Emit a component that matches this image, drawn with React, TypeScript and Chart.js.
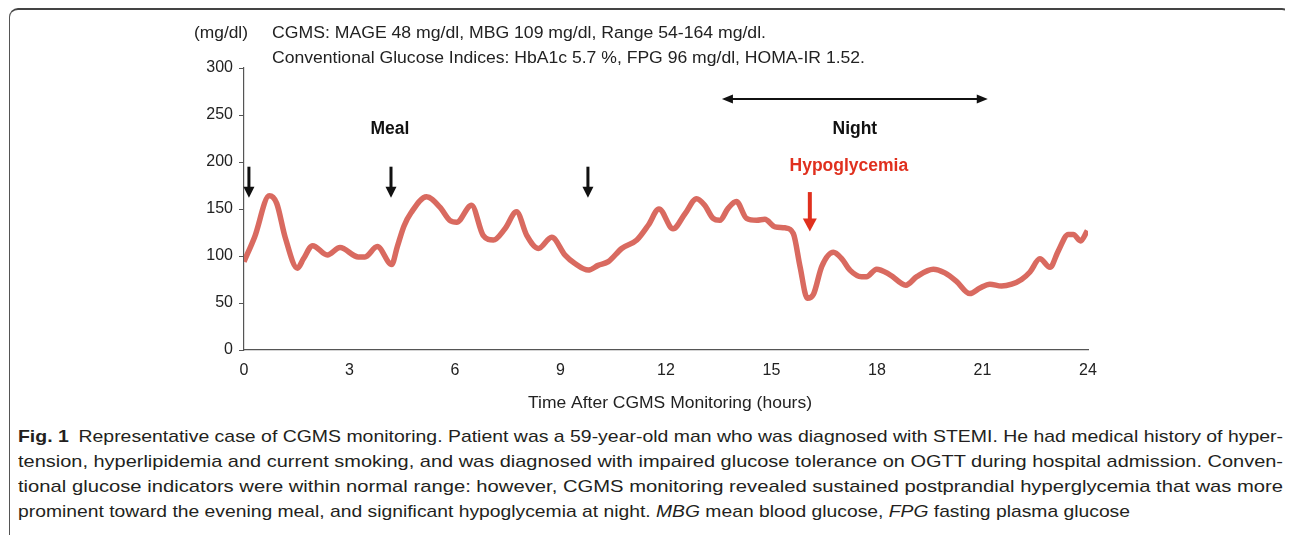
import React, { useEffect, useLayoutEffect, useRef } from "react";
import { Chart, registerables } from "chart.js";

Chart.register(...registerables);

// ---- data ----
const hours: number[] = [
  0, 0.3, 0.72, 0.93, 1.17, 1.52, 1.69, 1.95, 2.37, 2.73, 3.25, 3.44, 3.79, 4.2, 4.36, 4.55, 4.75, 5.19,
  5.57, 5.85, 6.05, 6.47, 6.8, 7.09, 7.42, 7.75, 8.04, 8.37, 8.75, 9.13, 9.41, 9.79, 10.07, 10.36, 10.74,
  11.17, 11.5, 11.8, 12.2, 12.54, 12.87, 13.1, 13.34, 13.53, 13.77, 14.0, 14.29, 14.58, 14.81, 15.1,
  15.38, 15.62, 15.81, 16.02, 16.19, 16.43, 16.76, 17.0, 17.23, 17.56, 17.7, 17.99, 18.37, 18.82, 19.13,
  19.6, 19.93, 20.26, 20.64, 20.93, 21.21, 21.54, 21.83, 22.11, 22.35, 22.63, 22.92, 23.15, 23.44, 23.58,
  23.79, 23.98,
];
const glucose: number[] = [
  94, 120, 164, 156, 120, 87, 97, 111, 101, 109, 99, 99, 110, 91, 110, 132, 146, 163,
  152, 138, 136, 154, 122, 117, 129, 147, 122, 108, 120, 101, 92, 85, 90, 94, 108,
  117, 133, 150, 129, 145, 161, 154, 140, 138, 151, 158, 140, 138, 139, 131,
  130, 124, 89, 55, 59, 89, 104, 97, 85, 78, 78, 86, 80, 69, 78,
  86, 82, 73, 60, 66, 70, 68, 70, 75, 83, 97, 88, 105, 123, 123,
  116, 127,
];
const xTicks: number[] = [0, 3, 6, 9, 12, 15, 18, 21, 24];
const yTicks: number[] = [0, 50, 100, 150, 200, 250, 300];
const mealHours: number[] = [0.14, 4.18, 9.78];
const nightSpan: number[] = [13.59, 21.15];
const hypoHour = 16.09;

const headerLines: string[] = [
  "CGMS: MAGE 48 mg/dl, MBG 109 mg/dl, Range 54-164 mg/dl.",
  "Conventional Glucose Indices: HbA1c 5.7 %, FPG 96 mg/dl, HOMA-IR 1.52.",
];
const yUnit = "(mg/dl)";
const xTitle = "Time After CGMS Monitoring (hours)";

const FONT = "'Liberation Sans', Arial, sans-serif";

function fitText(ctx: CanvasRenderingContext2D, text: string, x: number, y: number, w: number) {
  const m = ctx.measureText(text).width;
  ctx.save();
  ctx.translate(x, y);
  ctx.scale(w / m, 1);
  ctx.fillText(text, 0, 0);
  ctx.restore();
}

function downArrow(ctx: CanvasRenderingContext2D, x: number, y0: number, y1: number, sw: number, hw: number, hh: number, color: string) {
  ctx.save();
  ctx.fillStyle = color;
  ctx.fillRect(x - sw / 2, y0, sw, y1 - y0 - hh + 1);
  ctx.beginPath();
  ctx.moveTo(x - hw / 2, y1 - hh);
  ctx.lineTo(x + hw / 2, y1 - hh);
  ctx.lineTo(x, y1);
  ctx.closePath();
  ctx.fill();
  ctx.restore();
}

const annotations = {
  id: "annotations",
  afterDraw(chart: any) {
    const ctx: CanvasRenderingContext2D = chart.ctx;
    const xs = chart.scales.x;
    const ys = chart.scales.y;
    ctx.save();
    // header texts
    ctx.fillStyle = "#222";
    ctx.font = `16px ${FONT}`;
    ctx.textBaseline = "middle";
    ctx.textAlign = "left";
    fitText(ctx, yUnit, 194, 34, 54);
    fitText(ctx, headerLines[0], 272, 34, 494);
    fitText(ctx, headerLines[1], 272, 59, 593);
    // x title
    fitText(ctx, xTitle, 528, 404, 284);

    // meal arrows
    for (const h of mealHours) {
      const x = xs.getPixelForValue(h);
      downArrow(ctx, x, ys.getPixelForValue(195), ys.getPixelForValue(162), 3, 11, 11, "#111");
    }
    ctx.fillStyle = "#111";
    ctx.textAlign = "center";
    ctx.font = `bold 17.5px ${FONT}`;
    ctx.fillText("Meal", xs.getPixelForValue(4.15), ys.getPixelForValue(235));
    ctx.fillText("Night", xs.getPixelForValue(17.37), ys.getPixelForValue(235));

    // night double arrow
    const nx0 = xs.getPixelForValue(nightSpan[0]);
    const nx1 = xs.getPixelForValue(nightSpan[1]);
    const ny = ys.getPixelForValue(267);
    ctx.strokeStyle = "#111";
    ctx.lineWidth = 2;
    ctx.beginPath();
    ctx.moveTo(nx0 + 6, ny);
    ctx.lineTo(nx1 - 6, ny);
    ctx.stroke();
    ctx.beginPath();
    ctx.moveTo(nx0, ny);
    ctx.lineTo(nx0 + 11, ny - 4.5);
    ctx.lineTo(nx0 + 11, ny + 4.5);
    ctx.closePath();
    ctx.moveTo(nx1, ny);
    ctx.lineTo(nx1 - 11, ny - 4.5);
    ctx.lineTo(nx1 - 11, ny + 4.5);
    ctx.closePath();
    ctx.fill();

    // hypoglycemia
    ctx.fillStyle = "#e0301e";
    ctx.font = `bold 17.5px ${FONT}`;
    ctx.fillText("Hypoglycemia", xs.getPixelForValue(17.2), ys.getPixelForValue(196));
    downArrow(ctx, xs.getPixelForValue(hypoHour), ys.getPixelForValue(168), ys.getPixelForValue(126), 4, 14, 13, "#e0301e");
    ctx.restore();
  },
};

const captionLines: React.ReactNode[] = [
  <>
    <b>Fig. 1</b>{"\u2002"}Representative case of CGMS monitoring. Patient was a 59-year-old man who was diagnosed with STEMI. He had medical history of hyper-
  </>,
  <>tension, hyperlipidemia and current smoking, and was diagnosed with impaired glucose tolerance on OGTT during hospital admission. Conven-</>,
  <>tional glucose indicators were within normal range: however, CGMS monitoring revealed sustained postprandial hyperglycemia that was more</>,
  <>
    prominent toward the evening meal, and significant hypoglycemia at night. <i>MBG</i> mean blood glucose, <i>FPG</i> fasting plasma glucose
  </>,
];
const captionWidths: number[] = [1265, 1265, 1265, 1112];

export default function App() {
  const ref = useRef<HTMLCanvasElement | null>(null);
  const spans = useRef<(HTMLSpanElement | null)[]>([]);

  useLayoutEffect(() => {
    spans.current.forEach((s, i) => {
      if (!s) return;
      s.style.transform = "none";
      const w = s.getBoundingClientRect().width;
      if (w > 0) s.style.transform = `scaleX(${captionWidths[i] / w})`;
    });
  }, []);

  useEffect(() => {
    if (!ref.current) return;
    const points = hours.map((h, i) => ({ x: h, y: glucose[i] }));
    const chart = new Chart(ref.current, {
      type: "line",
      data: {
        datasets: [
          {
            data: points,
            borderColor: "#d96a60",
            borderWidth: 5.5,
            pointRadius: 0,
            cubicInterpolationMode: "monotone",
            fill: false,
          },
        ],
      },
      options: {
        animation: false,
        responsive: false,
        maintainAspectRatio: false,
        devicePixelRatio: 1,
        layout: { padding: { left: 0, right: 205, top: 68, bottom: 0 } },
        plugins: { legend: { display: false }, tooltip: { enabled: false } },
        scales: {
          x: {
            type: "linear",
            min: 0,
            max: 24,
            afterBuildTicks: (s: any) => {
              s.ticks = xTicks.map((v) => ({ value: v }));
            },
            afterFit: (s: any) => {
              s.height = 70;
            },
            grid: { display: false, drawTicks: false },
            border: { display: true, color: "#555", width: 1.2 },
            ticks: { color: "#222", font: { family: FONT, size: 16 }, padding: 11, maxRotation: 0 },
          },
          y: {
            min: 0,
            max: 300,
            afterBuildTicks: (s: any) => {
              s.ticks = yTicks.map((v) => ({ value: v }));
            },
            afterFit: (s: any) => {
              s.width = 244;
            },
            grid: { drawOnChartArea: false, drawTicks: true, tickLength: 5, color: "#555" },
            border: { display: true, color: "#555", width: 1.2 },
            ticks: { color: "#222", font: { family: FONT, size: 16 }, padding: 6 },
          },
        },
      },
      plugins: [annotations],
    } as any);
    return () => chart.destroy();
  }, []);

  return (
    <div style={{ position: "relative", width: 1293, height: 535 }}>
      <div
        style={{
          position: "absolute",
          left: 1,
          top: 0,
          width: 1282,
          height: 600,
          borderTop: "2px solid #444",
          borderLeft: "1.5px solid #555",
          borderRight: "1.5px solid #555",
          borderRadius: 9,
          boxSizing: "border-box",
        }}
      />
      <canvas
        ref={ref}
        width={1293}
        height={420}
        style={{ position: "absolute", left: -8, top: -8, width: 1293, height: 420 }}
      />
      {captionLines.map((line, i) => (
        <div
          key={i}
          style={{
            position: "absolute",
            left: 10,
            top: 416 + i * 25,
            whiteSpace: "nowrap",
            fontFamily: FONT,
            fontSize: 17,
            lineHeight: "25px",
            color: "#231f20",
          }}
        >
          <span
            ref={(el) => {
              spans.current[i] = el;
            }}
            style={{ display: "inline-block", transformOrigin: "0 50%" }}
          >
            {line}
          </span>
        </div>
      ))}
    </div>
  );
}
